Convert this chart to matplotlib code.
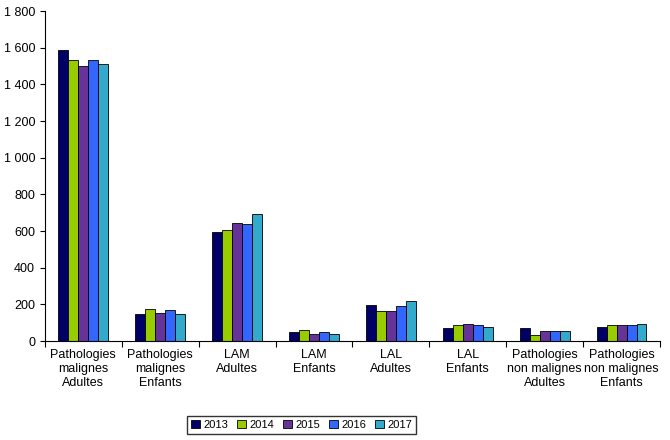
import matplotlib
matplotlib.use("Agg")
import matplotlib.pyplot as plt
import numpy as np

plt.rcParams["font.family"] = "Liberation Sans"

categories = ["Pathologies\nmalignes\nAdultes", "Pathologies\nmalignes\nEnfants", "LAM\nAdultes", "LAM\nEnfants",
              "LAL\nAdultes", "LAL\nEnfants", "Pathologies\nnon malignes\nAdultes", "Pathologies\nnon malignes\nEnfants"]
years = ["2013", "2014", "2015", "2016", "2017"]
values = {
    "2013": [1585, 145, 595, 50, 195, 70, 70, 75],
    "2014": [1530, 175, 605, 60, 165, 85, 35, 85],
    "2015": [1500, 155, 645, 40, 165, 95, 55, 90],
    "2016": [1530, 170, 640, 50, 190, 85, 55, 85],
    "2017": [1510, 150, 695, 40, 220, 75, 55, 95],
}
colors = ["#000066", "#99CC00", "#663399", "#3366FF", "#33AACC"]

fig = plt.figure(figsize=(6.7, 4.4), dpi=100)
ax = fig.add_axes([0.067, 0.225, 0.918, 0.75])
x = np.arange(len(categories))
w = 0.13
for i, y in enumerate(years):
    ax.bar(x + (i - 2) * w, values[y], w, color=colors[i], edgecolor="black", linewidth=0.6, label=y)

ax.set_xlim(-0.5, len(categories) - 0.5)
ax.set_ylim(0, 1800)
ax.set_yticks(range(0, 1801, 200))
ax.set_yticklabels([f"{v:,}".replace(",", " ") for v in range(0, 1801, 200)], fontsize=9)
ax.set_xticks(np.arange(-0.5, len(categories), 1))
ax.set_xticklabels([])
ax.set_xticks(x, minor=True)
ax.set_xticklabels(categories, minor=True, fontsize=9)
ax.tick_params(axis="x", which="minor", length=0, pad=6)
ax.tick_params(axis="x", which="major", length=4, direction="out")
ax.spines["top"].set_visible(False)
ax.spines["right"].set_visible(False)
fig.legend(loc="lower center", bbox_to_anchor=(0.45, 0.0), ncol=5, fontsize=8, frameon=True,
           fancybox=False, edgecolor="black", handlelength=0.8, handletextpad=0.3, columnspacing=0.8)
fig.savefig("out.png")
